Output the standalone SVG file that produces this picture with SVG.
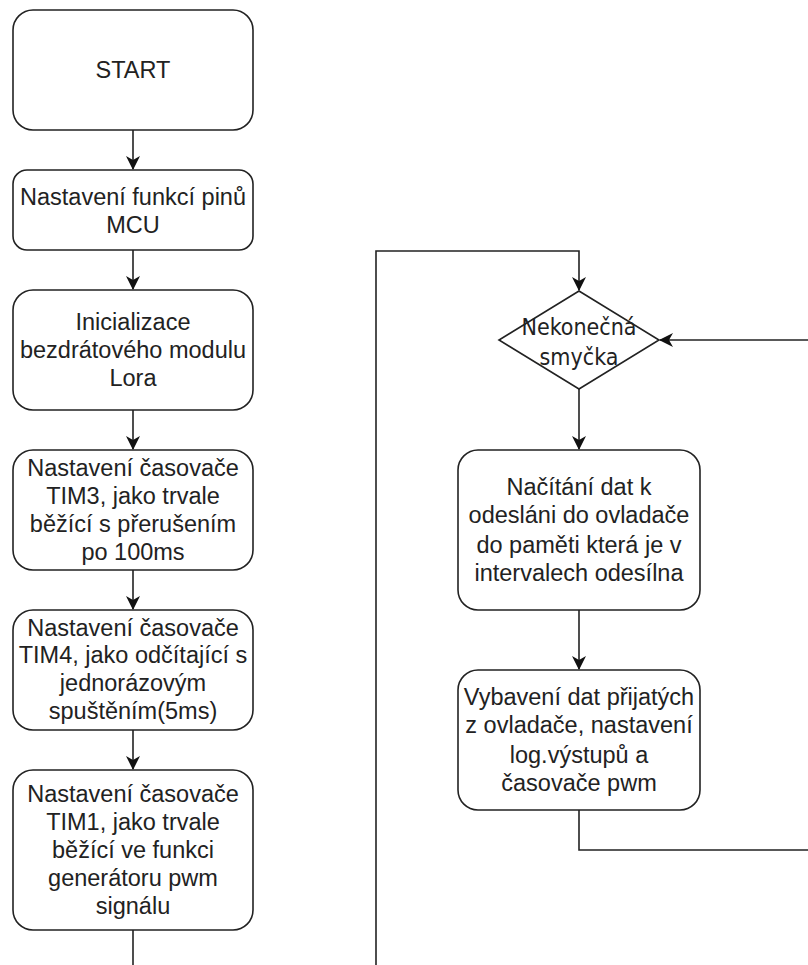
<svg xmlns="http://www.w3.org/2000/svg" width="808" height="965" viewBox="0 0 808 965">
<style>
.box{fill:#fff;stroke:#222;stroke-width:1.6}
.t{font-family:"Liberation Sans",Arial,sans-serif;font-size:23.5px;fill:#222;text-anchor:middle}
.d{font-family:"DejaVu Sans Condensed","Liberation Sans",sans-serif;font-size:23px;fill:#222;text-anchor:middle}
.c{fill:none;stroke:#222;stroke-width:1.6}
</style>
<defs>
<marker id="ah" viewBox="0 0 14 14" refX="13" refY="7" markerWidth="14" markerHeight="14" markerUnits="userSpaceOnUse" orient="auto">
<path d="M0,0 L14,7 L0,14 L4,7 Z" fill="#111"/>
</marker>
</defs>
<rect width="808" height="965" fill="#fff"/>
<g id="connectors">
<line class="c" x1="133" y1="130" x2="133" y2="169" marker-end="url(#ah)"/>
<line class="c" x1="133" y1="250" x2="133" y2="289" marker-end="url(#ah)"/>
<line class="c" x1="133" y1="410" x2="133" y2="449" marker-end="url(#ah)"/>
<line class="c" x1="133" y1="570" x2="133" y2="609" marker-end="url(#ah)"/>
<line class="c" x1="133" y1="730" x2="133" y2="769" marker-end="url(#ah)"/>
<line class="c" x1="133" y1="930" x2="133" y2="965"/>
<polyline class="c" points="376,965 376,251 579,251 579,290" marker-end="url(#ah)"/>
<line class="c" x1="579" y1="389" x2="579" y2="449" marker-end="url(#ah)"/>
<line class="c" x1="579" y1="610" x2="579" y2="669" marker-end="url(#ah)"/>
<polyline class="c" points="579,810 579,850 810,850"/>
<line class="c" x1="810" y1="340" x2="660" y2="340" marker-end="url(#ah)"/>
</g>
<g id="start">
<rect class="box" x="13" y="10" width="240" height="120" rx="20"/>
<text class="t" x="133" y="78">START</text>
</g>
<g id="piny">
<rect class="box" x="13" y="170" width="240" height="80" rx="14"/>
<text class="t" x="133" y="205">Nastavení funkcí pinů</text>
<text class="t" x="133" y="233">MCU</text>
</g>
<g id="lora">
<rect class="box" x="13" y="290" width="240" height="120" rx="20"/>
<text class="t" x="133" y="330">Inicializace</text>
<text class="t" x="133" y="358">bezdrátového modulu</text>
<text class="t" x="133" y="386">Lora</text>
</g>
<g id="tim3">
<rect class="box" x="13" y="450" width="240" height="120" rx="20"/>
<text class="t" x="133" y="476">Nastavení časovače</text>
<text class="t" x="133" y="504">TIM3, jako trvale</text>
<text class="t" x="133" y="532">běžící s přerušením</text>
<text class="t" x="133" y="560">po 100ms</text>
</g>
<g id="tim4">
<rect class="box" x="13" y="610" width="240" height="120" rx="20"/>
<text class="t" x="133" y="636">Nastavení časovače</text>
<text class="t" x="133" y="663">TIM4, jako odčítající s</text>
<text class="t" x="133" y="691">jednorázovým</text>
<text class="t" x="133" y="719">spuštěním(5ms)</text>
</g>
<g id="tim1">
<rect class="box" x="13" y="770" width="240" height="160" rx="20"/>
<text class="t" x="133" y="802">Nastavení časovače</text>
<text class="t" x="133" y="830">TIM1, jako trvale</text>
<text class="t" x="133" y="858">běžící ve funkci</text>
<text class="t" x="133" y="886">generátoru pwm</text>
<text class="t" x="133" y="914">signálu</text>
</g>
<g id="smycka">
<polygon class="box" points="579,291 659,340 579,389 499,340"/>
<text class="d" x="579" y="335">Nekonečná</text>
<text class="d" x="579" y="365">smyčka</text>
</g>
<g id="nacitani">
<rect class="box" x="458" y="450" width="242" height="160" rx="20"/>
<text class="t" x="579" y="495">Načítání dat k</text>
<text class="t" x="579" y="523">odesláni do ovladače</text>
<text class="t" x="579" y="553">do paměti která je v</text>
<text class="t" x="579" y="581">intervalech odesílna</text>
</g>
<g id="vybaveni">
<rect class="box" x="458" y="670" width="242" height="140" rx="20"/>
<text class="t" x="579" y="705">Vybavení dat přijatých</text>
<text class="t" x="579" y="733">z ovladače, nastavení</text>
<text class="t" x="579" y="763">log.výstupů a</text>
<text class="t" x="579" y="791">časovače pwm</text>
</g>
</svg>
